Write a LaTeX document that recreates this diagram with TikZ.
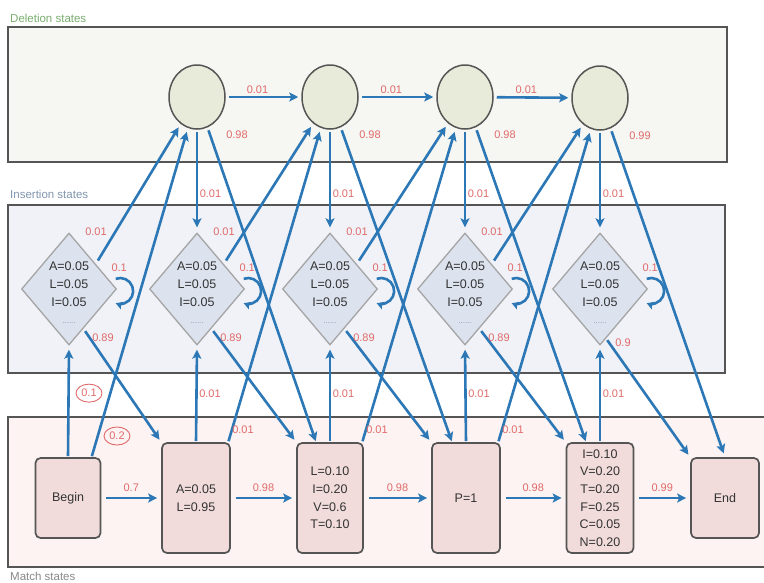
\documentclass[tikz,border=0pt]{standalone}
\usepackage{fontspec}
\setmainfont{Liberation Sans}
\usetikzlibrary{arrows.meta,shapes.geometric,calc}
\definecolor{arr}{HTML}{2C77B5}
\definecolor{lblc}{HTML}{E06A6A}
\definecolor{delfill}{HTML}{E8EBD9}
\definecolor{delbg}{HTML}{F6F6F2}
\definecolor{insbg}{HTML}{F0F2F7}
\definecolor{insfill}{HTML}{DCE2EE}
\definecolor{insborder}{HTML}{A5A5A5}
\definecolor{matbg}{HTML}{FCF3F2}
\definecolor{matfill}{HTML}{F1DCDB}
\definecolor{nodec}{HTML}{555555}
\definecolor{boxc}{HTML}{555555}
\definecolor{txtc}{HTML}{333333}
\definecolor{delgreen}{HTML}{78AD6E}
\definecolor{insgrey}{HTML}{8195AD}
\definecolor{matgrey}{HTML}{888888}
\definecolor{dotc}{HTML}{8A9AB0}
\begin{document}
\begin{tikzpicture}[x=1pt,y=1pt,
  arrowst/.style={draw=arr, line width=2.6pt, -{Stealth[length=9pt,width=9pt,inset=2pt]}},
  loopst/.style={draw=arr, line width=2.6pt, -{Stealth[length=7pt,width=8pt,inset=1.5pt]}},
  boxline/.style={draw=boxc, line width=1.8pt},
  delst/.style={ellipse, draw=nodec, line width=1.5pt, fill=delfill, minimum width=56pt, minimum height=64pt, inner sep=0pt},
  insst/.style={diamond, draw=insborder, line width=1.3pt, fill=insfill, minimum width=95pt, minimum height=112pt, inner sep=0pt},
  instxt/.style={align=center, text=txtc, inner sep=0pt, font=\fontsize{12.5}{17.6}\selectfont},
  matst/.style={rectangle, rounded corners=5pt, draw=nodec, line width=1.7pt, fill=matfill, align=center, text=txtc, inner sep=1pt, font=\fontsize{12.5}{17.6}\selectfont},
  lbl/.style={text=lblc, font=\fontsize{11}{13}\selectfont, inner sep=1.5pt},
  clbl/.style={lbl, ellipse, draw=lblc, line width=0.9pt, minimum width=26pt, minimum height=18pt, inner sep=0pt},
  seclbl/.style={font=\fontsize{11.5}{13}\selectfont, inner sep=0pt, anchor=base west}
]
\useasboundingbox (0,0) rectangle (764,-582);
% background boxes
\draw[boxline, fill=delbg] (8,-27) rectangle (727,-162);
\draw[boxline, fill=insbg] (8,-205) rectangle (725,-373);
\draw[boxline, fill=matbg] (8,-417) rectangle (768,-567);
\node[seclbl, text=delgreen] (tdel) at (10,-22) {Deletion states};
\node[seclbl, text=insgrey] (tins) at (10,-198) {Insertion states};
\node[seclbl, text=matgrey] (tmat) at (10,-580) {Match states};
% deletion states
\node[delst] (D1) at (197,-97) {};
\node[delst] (D2) at (330,-97) {};
\node[delst] (D3) at (465,-97) {};
\node[delst] (D4) at (600,-98) {};
% insertion states
\foreach \i/\x in {0/69,1/197,2/330,3/465,4/600}{
  \node[insst] (I\i) at (\x,-289) {};
  \node[instxt] (T\i) at (\x,-293) {A=0.05\\L=0.05\\I=0.05\\{\color{dotc}\fontsize{8}{8}\selectfont ......}};
}
% match states
\node[matst, minimum width=65pt, minimum height=80pt] (M0) at (68,-498) {Begin};
\node[matst, minimum width=68pt, minimum height=110pt] (M1) at (196,-498) {A=0.05\\L=0.95};
\node[matst, minimum width=66pt, minimum height=110pt] (M2) at (330,-498) {L=0.10\\I=0.20\\V=0.6\\T=0.10};
\node[matst, minimum width=68pt, minimum height=110pt] (M3) at (466,-498) {P=1};
\node[matst, minimum width=67pt, minimum height=110pt] (M4) at (600,-498) {I=0.10\\V=0.20\\T=0.20\\F=0.25\\C=0.05\\N=0.20};
\node[matst, minimum width=68pt, minimum height=80pt] (M5) at (725,-498) {End};
% D -> D
\foreach \a/\b in {1/2,2/3,3/4}
  \draw[arrowst, shorten <=3pt, shorten >=3pt] (D\a) -- node[lbl, above=1pt, pos=0.42] (ldd\a) {0.01} (D\b);
% D -> I
\foreach \i in {1,...,4}
  \draw[arrowst, shorten <=2pt, shorten >=5pt] (D\i.south) -- node[lbl, pos=0.62, anchor=west] (ldi\i) {0.01} (I\i.north);
% D -> M
\foreach \i/\j/\p in {1/2/0.98,2/3/0.98,3/4/0.98}{
  \draw[arrowst, shorten <=3pt, shorten >=1pt] (D\i) -- (M\j.104);
  \node[lbl] (ldm\i) at ($(D\i)+(40,-38)$) {\p};
}
\draw[arrowst, shorten <=3pt, shorten >=4pt] (D4) -- (M5.north);
\node[lbl] (ldm4) at ($(D4)+(40,-38)$) {0.99};
% I -> D
\foreach \i/\j in {0/1,1/2,2/3,3/4}{
  \draw[arrowst, shorten <=4pt, shorten >=4pt] (I\i.43) -- (D\j);
  \node[lbl] (lid\i) at ($(I\i)+(27,57)$) {0.01};
}
% I -> M
\foreach \i/\j in {0/1,1/2,2/3,3/4}{
  \draw[arrowst, shorten <=3pt, shorten >=3pt] (I\i.-70) -- (M\j.north west);
  \node[lbl] (lim\i) at ($(I\i)+(34,-49)$) {0.89};
}
\draw[arrowst, shorten <=2pt, shorten >=3pt] (I4.-83) -- (M5.north west);
\node[lbl] (lim4) at ($(I4)+(23,-54)$) {0.9};
% I self loops
\foreach \i in {0,...,4}{
  \draw[loopst] ($(I\i.east)+(3,-2)+(110:13)$) arc[start angle=110, end angle=-110, radius=13];
  \node[lbl] (lii\i) at ($(I\i.east)+(2,21)$) {0.1};
}
% M -> I
\draw[arrowst, shorten <=1pt, shorten >=4pt] (M0.north) -- (I0.south);
\node[clbl] (lmi0) at ($(M0.north)+(21,64)$) {0.1};
\foreach \i in {1,...,4}
  \draw[arrowst, shorten <=1pt, shorten >=4pt] (M\i.north) -- node[lbl, pos=0.5, anchor=west] (lmi\i) {0.01} (I\i.south);
% M -> D
\foreach \i/\j in {0/1,1/2,2/3,3/4}
  \draw[arrowst, shorten <=1pt, shorten >=4pt] (M\i.60) -- (D\j);
\node[clbl] (lmd0) at ($(M0)+(49,62)$) {0.2};
\foreach \i in {1,2,3}
  \node[lbl] (lmd\i) at ($(M\i)+(47,68)$) {0.01};
% M -> M
\foreach \i/\j/\p in {0/1/0.7,1/2/0.98,2/3/0.98,3/4/0.98,4/5/0.99}
  \draw[arrowst, shorten <=5pt, shorten >=4pt] (M\i) -- node[lbl, above=4pt] (lmm\i) {\p} (M\j);
\end{tikzpicture}
\end{document}
